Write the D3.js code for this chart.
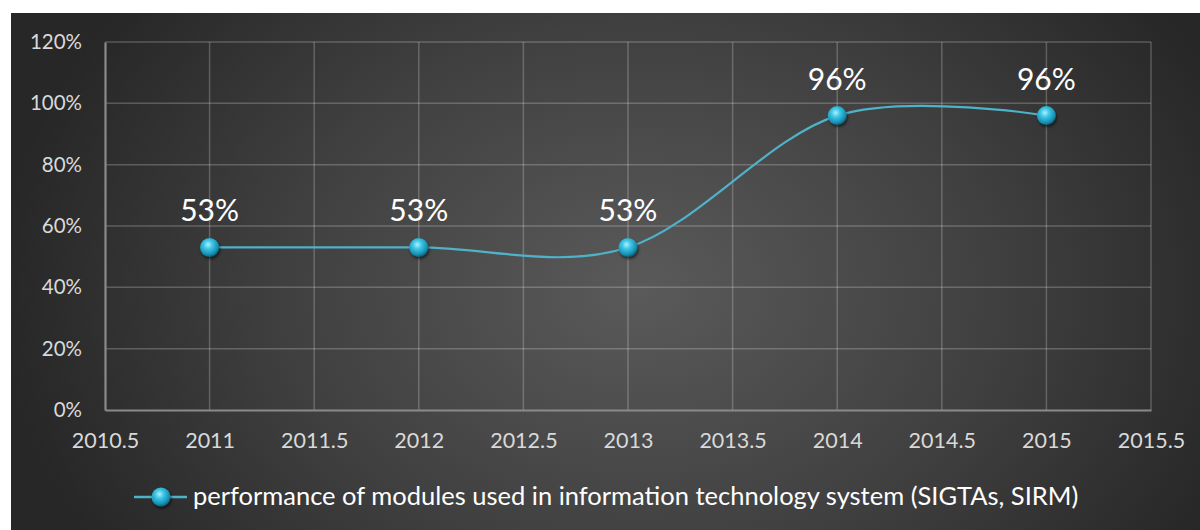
<!DOCTYPE html>
<html>
<head>
<meta charset="utf-8">
<script src="https://cdn.jsdelivr.net/npm/d3@7"></script>
<style>
  html, body { margin: 0; padding: 0; background: #ffffff; }
  svg { display: block; }
</style>
</head>
<body>
<svg id="chart" width="1200" height="530"></svg>
<script>
// Series: share of modules performing in the IT system, per year
const years = [2011, 2012, 2013, 2014, 2015];
const performance = [0.53, 0.53, 0.53, 0.96, 0.96];
const xTicks = [2010.5, 2011, 2011.5, 2012, 2012.5, 2013, 2013.5, 2014, 2014.5, 2015, 2015.5];
const yTicks = [0, 0.2, 0.4, 0.6, 0.8, 1.0, 1.2];
const seriesName = "performance of modules used in information technology system (SIGTAs, SIRM)";

const svg = d3.select("#chart");
const W = 1200, H = 530;
const font = "Lato, 'Open Sans', sans-serif";

// Panel background with radial shading
const defs = svg.append("defs");
const bg = defs.append("radialGradient").attr("id", "bg")
  .attr("gradientUnits", "userSpaceOnUse")
  .attr("cx", 640).attr("cy", 290).attr("r", 640)
  .attr("gradientTransform", "translate(640,290) scale(1,0.75) translate(-640,-290)");
bg.append("stop").attr("offset", "0%").attr("stop-color", "#5a5a5a");
bg.append("stop").attr("offset", "55%").attr("stop-color", "#404040");
bg.append("stop").attr("offset", "100%").attr("stop-color", "#272727");

const ball = defs.append("radialGradient").attr("id", "ball")
  .attr("cx", "42%").attr("cy", "35%").attr("r", "65%");
ball.append("stop").attr("offset", "0%").attr("stop-color", "#aef0ff");
ball.append("stop").attr("offset", "35%").attr("stop-color", "#3ec6e6");
ball.append("stop").attr("offset", "80%").attr("stop-color", "#1790b3");
ball.append("stop").attr("offset", "100%").attr("stop-color", "#0d5f78");

const shadow = defs.append("filter").attr("id", "shadow")
  .attr("x", "-50%").attr("y", "-50%").attr("width", "200%").attr("height", "200%");
shadow.append("feDropShadow").attr("dx", 1).attr("dy", 2).attr("stdDeviation", 1.5)
  .attr("flood-color", "#000").attr("flood-opacity", 0.6);

svg.append("rect").attr("x", 11).attr("y", 13).attr("width", W - 11).attr("height", H - 13)
  .attr("fill", "url(#bg)");

const plot = { left: 105, right: 1151, top: 42, bottom: 410 };

const x = d3.scaleLinear().domain([2010.5, 2015.5]).range([plot.left, plot.right]);
const y = d3.scaleLinear().domain([0, 1.2]).range([plot.bottom, plot.top]);

// Gridlines
const grid = svg.append("g");
grid.selectAll("line.h").data(yTicks.slice(1)).join("line")
  .attr("x1", plot.left).attr("x2", plot.right)
  .attr("y1", d => y(d)).attr("y2", d => y(d))
  .attr("stroke", "rgba(255,255,255,0.22)").attr("stroke-width", 1.5);
grid.selectAll("line.v").data(xTicks.slice(1)).join("line")
  .attr("y1", plot.top).attr("y2", plot.bottom)
  .attr("x1", d => x(d)).attr("x2", d => x(d))
  .attr("stroke", "rgba(255,255,255,0.22)").attr("stroke-width", 1.5);

// Axes
const yAxis = svg.append("g").attr("transform", `translate(${plot.left},0)`)
  .call(d3.axisLeft(y).tickValues(yTicks).tickFormat(d3.format(".0%")).tickSize(0).tickPadding(23));
const xAxis = svg.append("g").attr("transform", `translate(0,${plot.bottom})`)
  .call(d3.axisBottom(x).tickValues(xTicks).tickFormat(d => String(d)).tickSize(0).tickPadding(23));
[yAxis, xAxis].forEach(a => {
  a.select(".domain").attr("stroke", "#8a8a8a").attr("stroke-width", 2.2);
  a.selectAll("text").attr("fill", "#d9d9d9").style("font-family", font);
});
yAxis.selectAll("text").style("font-size", "20.5px");
xAxis.selectAll("text").style("font-size", "21.5px");

// Smoothed series line
const pts = years.map((yr, i) => [x(yr), y(performance[i])]);
svg.append("path").datum(pts)
  .attr("d", d3.line().curve(d3.curveCardinal.tension(0)))
  .attr("fill", "none").attr("stroke", "#4eb2c8").attr("stroke-width", 2.2);

// Markers
svg.append("g").selectAll("circle").data(pts).join("circle")
  .attr("cx", d => d[0]).attr("cy", d => d[1]).attr("r", 9.5)
  .attr("fill", "url(#ball)").attr("filter", "url(#shadow)");

// Data labels
svg.append("g").selectAll("text").data(years).join("text")
  .attr("x", d => x(d)).attr("y", (d, i) => y(performance[i]) - 26)
  .attr("text-anchor", "middle").attr("fill", "#ffffff")
  .style("font-family", font).style("font-size", "30px")
  .text((d, i) => d3.format(".0%")(performance[i]));

// Legend
const lg = svg.append("g");
lg.append("line").attr("x1", 134).attr("x2", 187).attr("y1", 497).attr("y2", 497)
  .attr("stroke", "#4eb2c8").attr("stroke-width", 2.5);
lg.append("circle").attr("cx", 161).attr("cy", 497).attr("r", 9.5)
  .attr("fill", "url(#ball)").attr("filter", "url(#shadow)");
lg.append("text").attr("x", 193).attr("y", 505).attr("fill", "#ffffff")
  .style("font-family", font).style("font-size", "25.5px").text(seriesName);
</script>
</body>
</html>
